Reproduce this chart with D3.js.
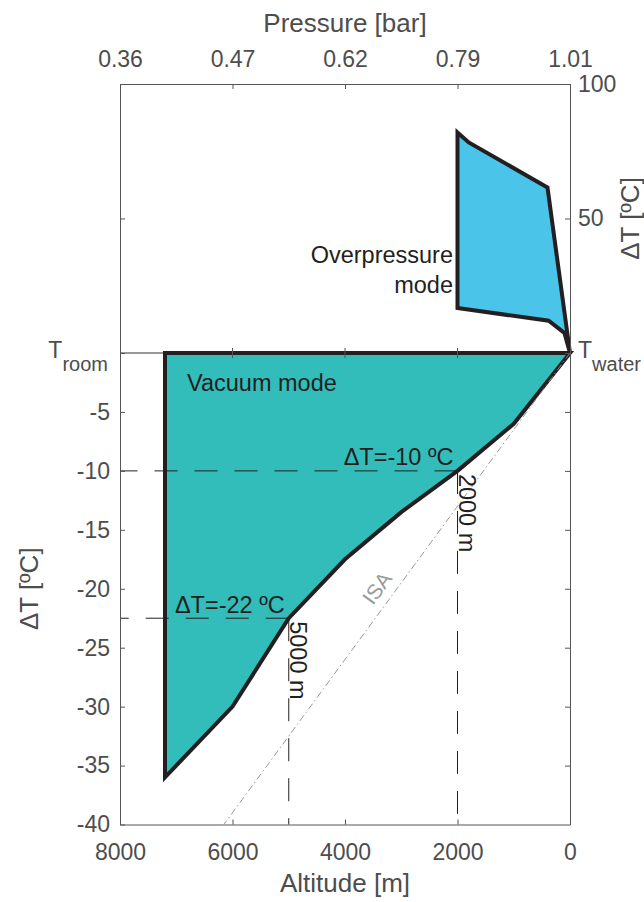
<!DOCTYPE html>
<html>
<head>
<meta charset="utf-8">
<script src="https://cdn.jsdelivr.net/npm/d3@7"></script>
<style>
  html, body { margin: 0; padding: 0; background: #fff; }
  svg { display: block; font-family: "Liberation Sans", Arial, Helvetica, sans-serif; }
</style>
</head>
<body>
<svg id="chart" width="644" height="902"></svg>
<script>
// ---------- data ----------
const altTicks = [8000, 6000, 4000, 2000, 0];
const pressureLabels = ["0.36", "0.47", "0.62", "0.79", "1.01"];
const leftTicks = [-40, -35, -30, -25, -20, -15, -10, -5];
const rightTicks = [50, 100];

// vacuum mode lower boundary (altitude m, ΔT ºC)
const vacAlt = [0, 1000, 2000, 3000, 4000, 5000, 6000, 7200];
const vacDT  = [0, -6, -10, -13.5, -17.5, -22.5, -30, -36];
const vacTopAlt = 7200;

// overpressure mode polygon
const opAlt = [2000, 1800, 400, 0, 100, 380, 2000];
const opDT  = [82, 78.3, 61.5, 0, 7.5, 12, 16.7];

// ISA line
const isaAlt = [0, 6154];
const isaDT  = [0, -40];

// reference points
const refAlt = [2000, 5000];
const refDT = [-10, -22.5];
const refLabels = ["ΔT=-10 ºC", "ΔT=-22 ºC"];
const refAltLabels = ["2000 m", "5000 m"];

// ---------- layout ----------
const svg = d3.select("#chart");
const L = 120, R = 570, T = 84, B = 824.5, Y0 = 353;
const x = d3.scaleLinear().domain([8000, 0]).range([L, R]);
const y = d3.scaleLinear().domain([-40, 0, 100]).range([B, Y0, T]);

const tickColor = "#4d4d4d";
const inkColor = "#231f20";
const fontTick = 23;
const fontLab = 23.5;

const line = d3.line().x(d => x(d[0])).y(d => y(d[1]));

svg.append("defs").append("clipPath").attr("id", "plotclip")
  .append("rect").attr("x", L).attr("y", T).attr("width", R - L).attr("height", B - T);

// zero line
svg.append("line").attr("x1", L).attr("x2", R).attr("y1", y(0)).attr("y2", y(0))
  .attr("stroke", "#333").attr("stroke-width", 1);

// vacuum polygon
const vacPts = [[vacTopAlt, 0]].concat(vacAlt.map((a, i) => [a, vacDT[i]]));
svg.append("path").attr("d", line(vacPts) + "Z")
  .attr("fill", "#32bdbb").attr("stroke", inkColor).attr("stroke-width", 4)
  .attr("stroke-linejoin", "miter").attr("stroke-miterlimit", 4);

// overpressure polygon
const opPts = opAlt.map((a, i) => [a, opDT[i]]);
svg.append("path").attr("d", line(opPts) + "Z")
  .attr("fill", "#4bc4e9").attr("stroke", inkColor).attr("stroke-width", 4)
  .attr("stroke-linejoin", "miter").attr("stroke-miterlimit", 4);

// ISA dash-dot line
svg.append("path").attr("d", line(isaAlt.map((a, i) => [a, isaDT[i]])))
  .attr("clip-path", "url(#plotclip)")
  .attr("fill", "none").attr("stroke", "#8c8c8c").attr("stroke-width", 0.9)
  .attr("stroke-dasharray", "7,3,1.5,3");

svg.append("text").text("ISA")
  .attr("transform", `translate(377,588) rotate(-54)`)
  .attr("text-anchor", "middle").attr("dominant-baseline", "central")
  .attr("font-size", 21).attr("fill", "#9a9a9a");

// reference dashed lines
refAlt.forEach((a, i) => {
  const dt = refDT[i];
  svg.append("path").attr("d", line([[a, dt], [8000, dt]]))
    .attr("fill", "none").attr("stroke", inkColor).attr("stroke-width", 1)
    .attr("stroke-dasharray", "23,17");
  svg.append("path").attr("d", line([[a, dt], [a, -40]]))
    .attr("fill", "none").attr("stroke", inkColor).attr("stroke-width", 1)
    .attr("stroke-dasharray", "23,17");
  svg.append("text").text(refLabels[i])
    .attr("x", x(a) - 4).attr("y", y(dt) - 5.5)
    .attr("text-anchor", "end").attr("font-size", fontLab).attr("fill", inkColor);
  svg.append("text").text(refAltLabels[i])
    .attr("transform", `translate(${x(a) + 1.5},${y(dt) + 3}) rotate(90)`)
    .attr("text-anchor", "start").attr("font-size", fontLab).attr("fill", inkColor);
});

// mode labels
svg.append("text").text("Vacuum mode").attr("x", 187).attr("y", 391)
  .attr("font-size", fontLab).attr("fill", inkColor);
svg.append("text").text("Overpressure").attr("x", 453).attr("y", 263)
  .attr("text-anchor", "end").attr("font-size", fontLab).attr("fill", inkColor);
svg.append("text").text("mode").attr("x", 453).attr("y", 293)
  .attr("text-anchor", "end").attr("font-size", fontLab).attr("fill", inkColor);

// ---------- axes ----------
function styleAxis(g) {
  g.select(".domain").attr("stroke", "#555").attr("stroke-width", 1);
  g.selectAll(".tick line").attr("stroke", "#555").attr("stroke-width", 1);
  g.selectAll(".tick text").attr("fill", tickColor).attr("font-size", fontTick)
    .attr("font-family", "Liberation Sans, Arial, sans-serif");
}

// bottom
svg.append("g").attr("transform", `translate(0,${B})`)
  .call(d3.axisBottom(x).tickValues(altTicks).tickFormat(d3.format("d"))
    .tickSizeInner(-5).tickSizeOuter(0).tickPadding(19))
  .call(styleAxis);

// top
svg.append("g").attr("transform", `translate(0,${T})`)
  .call(d3.axisTop(x).tickValues(altTicks).tickFormat((d, i) => pressureLabels[i])
    .tickSizeInner(-5).tickSizeOuter(0).tickPadding(17))
  .call(styleAxis);

// small ticks on zero line
const zt = svg.append("g");
altTicks.filter(d => d > 0 && d < 8000).forEach(d => {
  zt.append("line").attr("x1", x(d)).attr("x2", x(d))
    .attr("y1", y(0) - 5).attr("y2", y(0) + 5)
    .attr("stroke", "#555").attr("stroke-width", 1);
});

// left
svg.append("g").attr("transform", `translate(${L},0)`)
  .call(d3.axisLeft(y).tickValues(leftTicks.concat([0, 50]))
    .tickFormat(d => d < 0 ? String(d) : "")
    .tickSizeInner(-5).tickSizeOuter(0).tickPadding(10))
  .call(styleAxis);

// right
svg.append("g").attr("transform", `translate(${R},0)`)
  .call(d3.axisRight(y).tickValues(leftTicks.filter(d => d > -40).concat([0]).concat(rightTicks))
    .tickFormat(d => rightTicks.includes(d) ? String(d) : "")
    .tickSizeInner(-5).tickSizeOuter(0).tickPadding(8))
  .call(styleAxis);

// T room / T water
const tr = svg.append("text").attr("x", 108).attr("y", y(0) + 5)
  .attr("text-anchor", "end").attr("fill", tickColor).attr("font-size", fontTick);
tr.append("tspan").text("T");
tr.append("tspan").text("room").attr("dy", 13).attr("font-size", 20);

const tw = svg.append("text").attr("x", 578).attr("y", y(0) + 5)
  .attr("fill", tickColor).attr("font-size", fontTick);
tw.append("tspan").text("T");
tw.append("tspan").text("water").attr("dy", 13).attr("font-size", 20);

// axis titles
svg.append("text").text("Pressure [bar]").attr("x", (L + R) / 2).attr("y", 32)
  .attr("text-anchor", "middle").attr("font-size", 26).attr("fill", tickColor);
svg.append("text").text("Altitude [m]").attr("x", (L + R) / 2).attr("y", 892)
  .attr("text-anchor", "middle").attr("font-size", 26).attr("fill", tickColor);
svg.append("text").text("ΔT [ºC]")
  .attr("transform", `translate(38,${(y(0) + B) / 2}) rotate(-90)`)
  .attr("text-anchor", "middle").attr("font-size", 26).attr("fill", tickColor);
svg.append("text").text("ΔT [ºC]")
  .attr("transform", `translate(639,${(y(0) + T) / 2}) rotate(-90)`)
  .attr("text-anchor", "middle").attr("font-size", 26).attr("fill", tickColor);
</script>
</body>
</html>
